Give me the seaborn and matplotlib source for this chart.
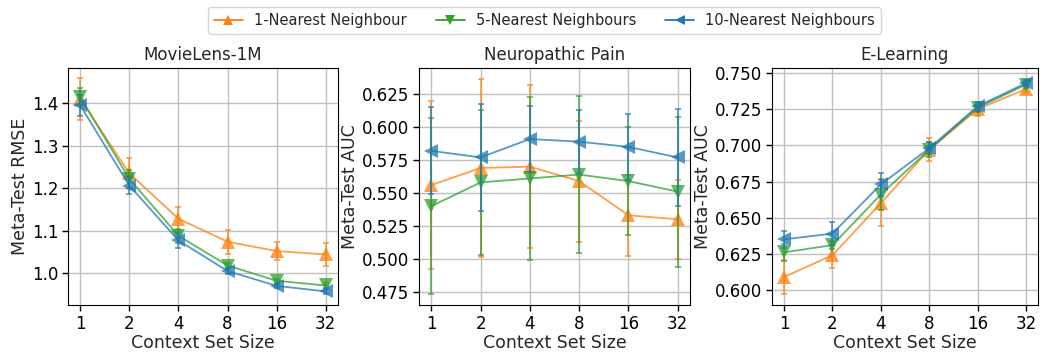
import numpy as np
import pandas as pd
import matplotlib
matplotlib.use("Agg")
import matplotlib.pyplot as plt
from matplotlib.lines import Line2D
import seaborn as sns

context_sizes = [1, 2, 4, 8, 16, 32]
methods = ["1-Nearest Neighbour", "5-Nearest Neighbours", "10-Nearest Neighbours"]
titles = ["MovieLens-1M", "Neuropathic Pain", "E-Learning"]
ylabels = ["Meta-Test RMSE", "Meta-Test AUC", "Meta-Test AUC"]

# MovieLens-1M
ml_1nn = [1.410, 1.235, 1.128, 1.074, 1.052, 1.044]
ml_1nn_err = [0.050, 0.037, 0.028, 0.028, 0.022, 0.027]
ml_5nn = [1.415, 1.222, 1.088, 1.018, 0.982, 0.971]
ml_5nn_err = [0.020, 0.022, 0.016, 0.006, 0.005, 0.005]
ml_10nn = [1.395, 1.206, 1.077, 1.005, 0.970, 0.957]
ml_10nn_err = [0.025, 0.020, 0.018, 0.006, 0.005, 0.005]

# Neuropathic Pain
np_1nn = [0.556, 0.569, 0.570, 0.559, 0.533, 0.530]
np_1nn_err = [0.064, 0.068, 0.062, 0.046, 0.031, 0.030]
np_5nn = [0.540, 0.558, 0.561, 0.564, 0.559, 0.551]
np_5nn_err = [0.067, 0.055, 0.062, 0.060, 0.041, 0.057]
np_10nn = [0.582, 0.577, 0.591, 0.589, 0.585, 0.577]
np_10nn_err = [0.033, 0.041, 0.025, 0.024, 0.025, 0.037]

# E-Learning
el_1nn = [0.609, 0.624, 0.660, 0.697, 0.725, 0.739]
el_1nn_err = [0.012, 0.009, 0.016, 0.008, 0.005, 0.003]
el_5nn = [0.626, 0.631, 0.666, 0.697, 0.726, 0.742]
el_5nn_err = [0.006, 0.003, 0.011, 0.005, 0.003, 0.002]
el_10nn = [0.635, 0.639, 0.673, 0.698, 0.727, 0.743]
el_10nn_err = [0.006, 0.008, 0.008, 0.004, 0.003, 0.002]

panels = [
    [(ml_1nn, ml_1nn_err), (ml_5nn, ml_5nn_err), (ml_10nn, ml_10nn_err)],
    [(np_1nn, np_1nn_err), (np_5nn, np_5nn_err), (np_10nn, np_10nn_err)],
    [(el_1nn, el_1nn_err), (el_5nn, el_5nn_err), (el_10nn, el_10nn_err)],
]
ylims = [(0.925, 1.483), (0.4648, 0.645), (0.5896, 0.7535)]
yticks = [[1.0, 1.1, 1.2, 1.3, 1.4],
          [0.475, 0.500, 0.525, 0.550, 0.575, 0.600, 0.625],
          [0.600, 0.625, 0.650, 0.675, 0.700, 0.725, 0.750]]
ytickfmt = ["{:.1f}", "{:.3f}", "{:.3f}"]

colors = ["#ff7f0e", "#2ca02c", "#1f77b4"]
markers = ["^", "v", "<"]

sns.set_style("whitegrid", {"axes.edgecolor": "black", "grid.color": "#c0c0c0",
                            "xtick.bottom": True, "ytick.left": True,
                            "axes.linewidth": 1.0})
plt.rcParams["font.family"] = ["DejaVu Sans"]

fig = plt.figure(figsize=(10.41, 3.54), dpi=100)
lefts = [68 / 1041, 419 / 1041, 772 / 1041]
rights = [338 / 1041, 690 / 1041, 1038 / 1041]
bottom = 1 - 305 / 354
top = 1 - 68 / 354
axes = [fig.add_axes([l, bottom, r - l, top - bottom]) for l, r in zip(lefts, rights)]

for ax, series, title, ylabel, ylim, yt, fmt in zip(axes, panels, titles, ylabels, ylims, yticks, ytickfmt):
    for (vals, errs), name, c, m in zip(series, methods, colors, markers):
        df = pd.DataFrame({"x": context_sizes, "y": vals})
        ax.errorbar(context_sizes, vals, yerr=errs, fmt="none", ecolor=c, alpha=0.75,
                    elinewidth=1.2, capsize=2.5, capthick=1.2)
        sns.lineplot(data=df, x="x", y="y", ax=ax, color=c, marker=m, markersize=10,
                     markeredgewidth=0, alpha=0.75, linewidth=1.3, label=name, legend=False)
    ax.set_xscale("log", base=2)
    ax.set_xticks(context_sizes)
    ax.set_xticklabels([str(v) for v in context_sizes])
    ax.minorticks_off()
    ax.set_xlim(2 ** -0.25, 2 ** 5.25)
    ax.set_ylim(*ylim)
    ax.set_yticks(yt)
    ax.set_yticklabels([fmt.format(v) for v in yt])
    ax.tick_params(labelsize=12, length=4, width=1, colors="black", pad=3)
    ax.set_xlabel("Context Set Size", fontsize=12.5, labelpad=1)
    ax.set_ylabel(ylabel, fontsize=12.5, labelpad=2)
    ax.set_title(title, fontsize=12, pad=6)
    ax.grid(True, linewidth=1.0)
    for s in ax.spines.values():
        s.set_color("black")

handles = [Line2D([], [], color=c, marker=m, markersize=7, markeredgewidth=0, linewidth=1.3)
           for c, m in zip(colors, markers)]
fig.legend(handles, methods, loc="upper center", ncol=3, fontsize=10.5,
           bbox_to_anchor=(0.523, 1.0), frameon=True, edgecolor="#cccccc",
           handlelength=2.0, columnspacing=2.0, handletextpad=0.75)

fig.savefig("out.png", dpi=100)
